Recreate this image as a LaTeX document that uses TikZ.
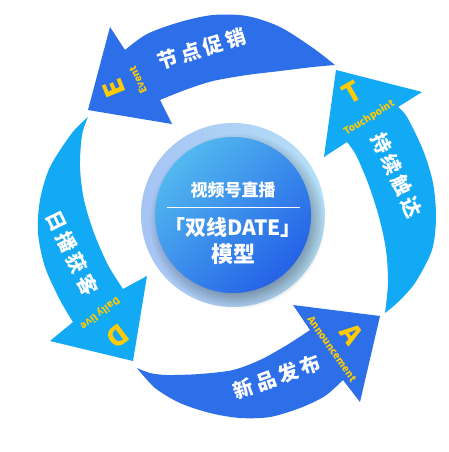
\documentclass[tikz,border=0pt]{standalone}
\usepackage{fontspec}
\usetikzlibrary{fadings}
\newfontfamily\cjk{Noto Sans CJK SC}
\newfontfamily\cjkw{Noto Sans CJK SC}[LetterSpace=18]
\definecolor{darkblue}{HTML}{2D6FE9}
\definecolor{lightblue}{HTML}{12A9F5}
\definecolor{letteryellow}{HTML}{FFCB05}
\definecolor{ringleft}{HTML}{A6C4F4}
\definecolor{ringright}{HTML}{B6E0F8}
\definecolor{innerlight}{HTML}{52B8EF}
\definecolor{innerdark}{HTML}{2462E7}
\tikzset{
  arrowlabel/.style={text=white, font=\cjkw\bfseries\fontsize{20}{20}\selectfont, inner sep=0pt},
  bigletter/.style={text=letteryellow, font=\cjk\bfseries\fontsize{27}{27}\selectfont, inner sep=0pt},
  smallword/.style={text=letteryellow, font=\cjk\bfseries\fontsize{10}{10}\selectfont, inner sep=0pt},
  centertext/.style={text=white, font=\cjk\bfseries, inner sep=0pt},
}
\begin{document}
\begin{tikzpicture}[x=1pt,y=-1pt]
\useasboundingbox (0,0) rectangle (448,452);
\fill[white] (0,0) rectangle (448,452);

% ---- top arrow (E)
\fill[darkblue] (335,65) -- plot[smooth] coordinates {(335,65) (313,48) (280,27) (247,16) (213,15) (180,22) (147,34) (125,50)}
  -- (110,27) -- (88,110) -- (172,124) -- (160,100)
  -- plot[smooth] coordinates {(160,100) (185,90) (213,81) (247,75) (280,71) (313,67) (335,65)} -- cycle;

% ---- right arrow (T)
\fill[lightblue] (385,313) -- plot[smooth] coordinates {(385,313) (397,303) (415,283) (432,250) (436,217) (433,183) (423,150) (407,117) (398,107)}
  -- (422,92) -- (336,70) -- (324,157) -- (347,142)
  -- plot[smooth] coordinates {(347,142) (356,155) (368,183) (379,217) (386,250) (388,283) (385,313)} -- cycle;

% ---- left arrow (D)
\fill[lightblue] (88,117) -- plot[smooth] coordinates {(88,117) (72,133) (50,167) (40,200) (38,233) (45,267) (60,300) (73,322)}
  -- (50,341) -- (133,361) -- (147,276) -- (123,289)
  -- plot[smooth] coordinates {(123,289) (108,265) (94,233) (84,200) (80,167) (82,135) (88,117)} -- cycle;

% ---- bottom arrow (A)
\fill[darkblue] (137,368) -- plot[smooth] coordinates {(137,368) (155,388) (180,403) (210,413) (240,418) (270,417) (300,408) (325,396) (343,380)}
  -- (360,402) -- (380,316) -- (293,305) -- (310,330)
  -- plot[smooth] coordinates {(310,330) (287,345) (260,360) (233,370) (200,374) (167,375) (150,373) (137,368)} -- cycle;

% ---- arrow texts
\node[arrowlabel, rotate=17] (lblE) at (202,49) {节点促销};
\node[arrowlabel, rotate=-65] (lblT) at (397,175) {持续触达};
\node[arrowlabel, rotate=-64] (lblD) at (72,253) {日播获客};
\node[arrowlabel, rotate=20] (lblA) at (277,377) {新品发布};

\node[bigletter, rotate=112] (letE) at (114,88) {E};
\node[smallword, rotate=115] (wordE) at (138,80) {Event};
\node[bigletter, rotate=30] (letT) at (352,92) {T};
\node[smallword, rotate=32] (wordT) at (369,118) {Touchpoint};
\node[bigletter, rotate=-55] (letA) at (352,334) {A};
\node[smallword, rotate=-55] (wordA) at (332,349) {Announcement};
\node[bigletter, rotate=217] (letD) at (118,336) {D};
\node[smallword, rotate=217] (wordD) at (100,313) {Daily live};

% ---- centre
\coordinate (ctr) at (233,215);
\shade[left color=ringleft, right color=ringright] (ctr) circle[radius=92pt];
\fill[black, opacity=0.3, path fading=circle with fuzzy edge 20 percent] (237,221) circle[radius=88pt];
\shade[top color=innerlight, bottom color=innerdark, shading angle=45] (ctr) circle[radius=78pt];

\node[centertext, font=\cjk\bfseries\fontsize{17}{17}\selectfont] (c1) at (233,190) {视频号直播};
\coordinate (rl) at (167,207);
\coordinate (rr) at (300,207);
\draw[white, line width=0.9pt] (rl) -- (rr);
\node[centertext, font=\cjk\bfseries\fontsize{21}{21}\selectfont] (c2) at (233,227) {「双线DATE」};
\node[centertext, font=\cjk\bfseries\fontsize{22}{22}\selectfont] (c3) at (233,254) {模型};
\end{tikzpicture}
\end{document}
